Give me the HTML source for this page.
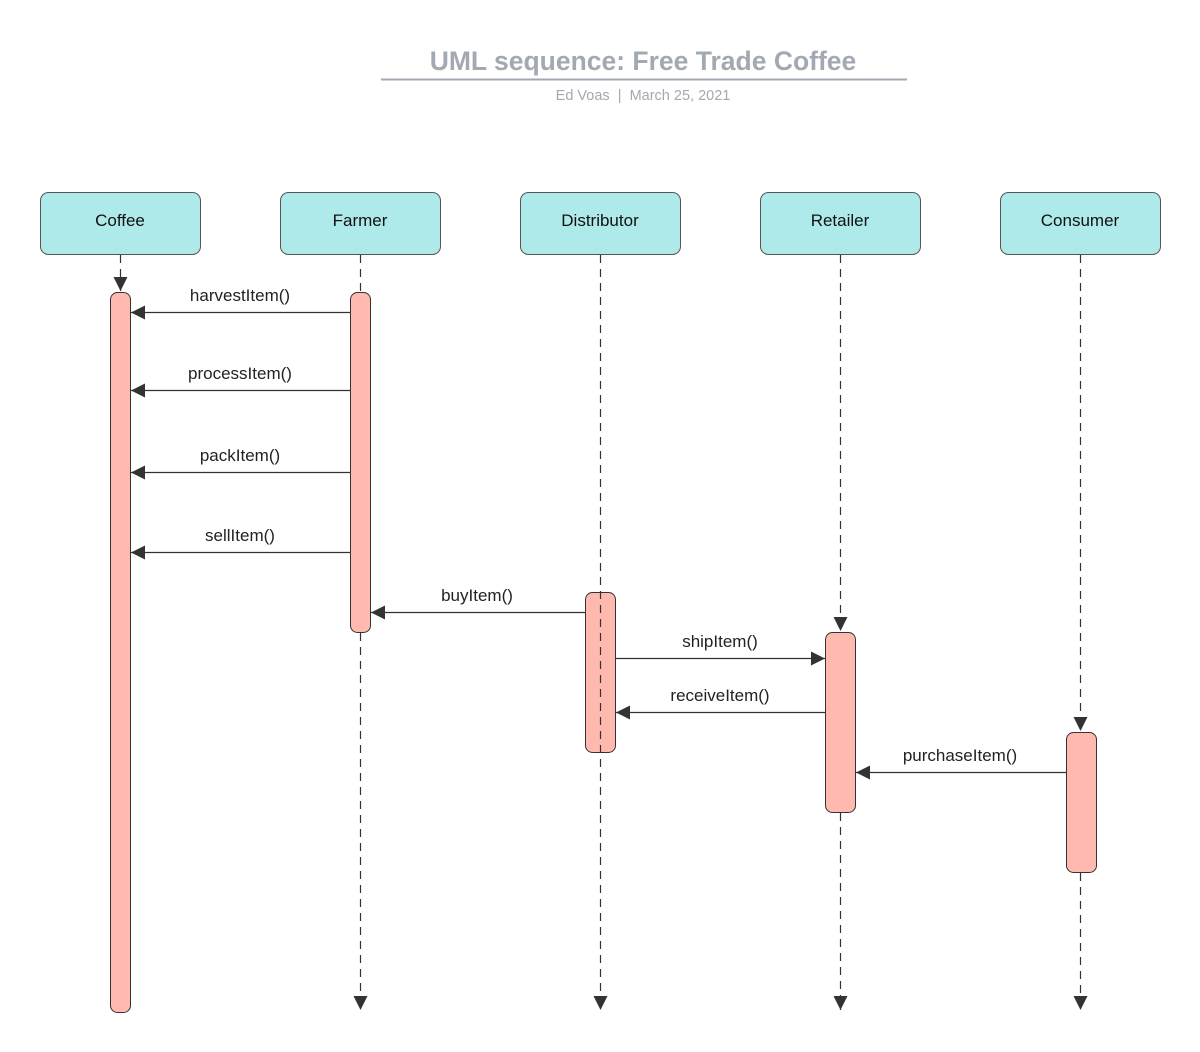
<!DOCTYPE html>
<html><head><meta charset="utf-8"><style>
html,body{margin:0;padding:0;background:#fff;}
svg{display:block;font-family:"Liberation Sans",sans-serif;}
</style></head><body>
<svg width="1200" height="1052" viewBox="0 0 1200 1052" xmlns="http://www.w3.org/2000/svg">
<defs>
<marker id="a" viewBox="0 0 10 10" refX="10" refY="5" markerWidth="14" markerHeight="14" markerUnits="userSpaceOnUse" orient="auto"><path d="M0,0 L10,5 L0,10 z" fill="#333"/></marker>
</defs>
<text x="643" y="70" text-anchor="middle" font-size="26.5" font-weight="bold" fill="#a3a9b2">UML sequence: Free Trade Coffee</text>
<line x1="381" y1="79.5" x2="907" y2="79.5" stroke="#a3a9b2" stroke-width="2"/>
<text x="643" y="100" text-anchor="middle" font-size="14.5" fill="#a3a9b2">Ed Voas&#160;&#160;|&#160;&#160;March 25, 2021</text>
<g fill="#aeeae9" stroke="#555" stroke-width="1">
<rect x="40.5" y="192.5" width="160" height="62" rx="8"/>
<rect x="280.5" y="192.5" width="160" height="62" rx="8"/>
<rect x="520.5" y="192.5" width="160" height="62" rx="8"/>
<rect x="760.5" y="192.5" width="160" height="62" rx="8"/>
<rect x="1000.5" y="192.5" width="160" height="62" rx="8"/>
</g>
<g font-size="17" fill="#111" text-anchor="middle">
<text x="120" y="226">Coffee</text><text x="360" y="226">Farmer</text><text x="600" y="226">Distributor</text><text x="840" y="226">Retailer</text><text x="1080" y="226">Consumer</text>
</g>
<g stroke="#333" stroke-width="1.2" stroke-dasharray="8,6" fill="none">
<line x1="120.5" y1="255" x2="120.5" y2="291" marker-end="url(#a)"/>
<line x1="360.5" y1="255" x2="360.5" y2="292"/>
<line x1="360.5" y1="633" x2="360.5" y2="1010" marker-end="url(#a)"/>
<line x1="840.5" y1="255" x2="840.5" y2="631" marker-end="url(#a)"/>
<line x1="840.5" y1="813" x2="840.5" y2="1010" marker-end="url(#a)"/>
<line x1="1080.5" y1="255" x2="1080.5" y2="731" marker-end="url(#a)"/>
<line x1="1080.5" y1="873" x2="1080.5" y2="1010" marker-end="url(#a)"/>
</g>
<g fill="#ffb9ae" stroke="#333" stroke-width="1">
<rect x="110.5" y="292.5" width="20" height="720" rx="7"/>
<rect x="350.5" y="292.5" width="20" height="340" rx="7"/>
<rect x="585.5" y="592.5" width="30" height="160" rx="7"/>
<rect x="825.5" y="632.5" width="30" height="180" rx="7"/>
<rect x="1066.5" y="732.5" width="30" height="140" rx="7"/>
</g>
<line x1="600.5" y1="255" x2="600.5" y2="1010" stroke="#333" stroke-width="1.2" stroke-dasharray="8,6" marker-end="url(#a)"/>
<g stroke="#333" stroke-width="1.2">
<line x1="350" y1="312.5" x2="131" y2="312.5" marker-end="url(#a)"/>
<line x1="350" y1="390.5" x2="131" y2="390.5" marker-end="url(#a)"/>
<line x1="350" y1="472.5" x2="131" y2="472.5" marker-end="url(#a)"/>
<line x1="350" y1="552.5" x2="131" y2="552.5" marker-end="url(#a)"/>
<line x1="585" y1="612.5" x2="371" y2="612.5" marker-end="url(#a)"/>
<line x1="616" y1="658.5" x2="825" y2="658.5" marker-end="url(#a)"/>
<line x1="825" y1="712.5" x2="616" y2="712.5" marker-end="url(#a)"/>
<line x1="1066" y1="772.5" x2="856" y2="772.5" marker-end="url(#a)"/>
</g>
<g font-size="17" fill="#222" text-anchor="middle">
<text x="240" y="301">harvestItem()</text>
<text x="240" y="379">processItem()</text>
<text x="240" y="461">packItem()</text>
<text x="240" y="541">sellItem()</text>
<text x="477" y="601">buyItem()</text>
<text x="720" y="647">shipItem()</text>
<text x="720" y="701">receiveItem()</text>
<text x="960" y="761">purchaseItem()</text>
</g>
</svg>
</body></html>
